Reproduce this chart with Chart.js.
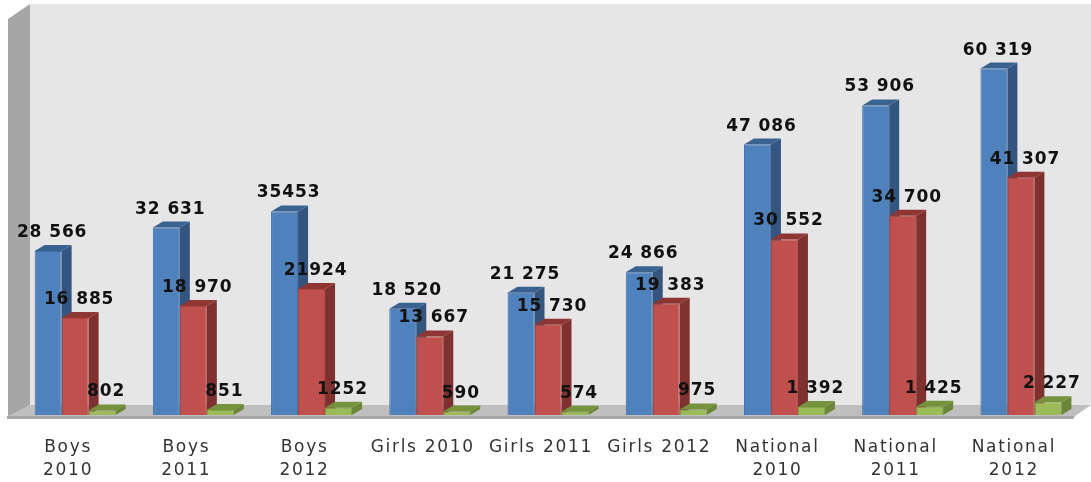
<!DOCTYPE html>
<html>
<head>
<meta charset="utf-8">
<title>Boys, Girls and National 2010-2012</title>
<style>
    html, body { margin: 0; padding: 0; background: #fff; }
    canvas { display: block; }
</style>
<script src="https://cdn.jsdelivr.net/npm/chart.js@4/dist/chart.umd.min.js"></script>
</head>
<body>
<canvas id="myChart" width="1091" height="482"></canvas>
<script>
// chart data
var categories = [
    ["Boys", "2010"], ["Boys", "2011"], ["Boys", "2012"],
    "Girls 2010", "Girls 2011", "Girls 2012",
    ["National", "2010"], ["National", "2011"], ["National", "2012"]
];
var blueValues = [28566, 32631, 35453, 18520, 21275, 24866, 47086, 53906, 60319];
var redValues = [16885, 18970, 21924, 13667, 15730, 19383, 30552, 34700, 41307];
var greenValues = [802, 851, 1252, 590, 574, 975, 1392, 1425, 2227];
var blueLabels = ["28 566", "32 631", "35453", "18 520", "21 275", "24 866", "47 086", "53 906", "60 319"];
var redLabels = ["16 885", "18 970", "21924", "13 667", "15 730", "19 383", "30 552", "34 700", "41 307"];
var greenLabels = ["802", "851", "1252", "590", "574", "975", "1 392", "1 425", "2 227"];

// depth of the fake 3d
var DEPTH_X = 10;
var DEPTH_Y = 6;
// axis text sits a little left of the bar groups
var TICK_SHIFT = 7;

function poly(ctx, pts, color) {
    ctx.beginPath();
    ctx.moveTo(pts[0][0], pts[0][1]);
    for (var i = 1; i < pts.length; i++) {
        ctx.lineTo(pts[i][0], pts[i][1]);
    }
    ctx.closePath();
    ctx.fillStyle = color;
    ctx.fill();
}

// back wall, left wall and floor
var wallPlugin = {
    id: "walls",
    beforeDraw: function (chart) {
        var ctx = chart.ctx;
        var a = chart.chartArea;
        var w = chart.width;
        var base = a.bottom;
        ctx.save();
        poly(ctx, [[30, 4], [w, 4], [w, base - 10], [30, base - 10]], "#e6e6e6");
        poly(ctx, [[8, 19], [30, 4], [30, base - 10], [8, base + 3]], "#a6a6a6");
        poly(ctx, [[8, base + 1], [30, base - 10], [w, base - 10], [1075, base + 1]], "#bfbfbf");
        poly(ctx, [[7, base + 1], [1075, base + 1], [1073, base + 4], [7, base + 4]], "#a6a6a6");
        ctx.restore();
        // stretched look of the axis text, undone in beforeDatasetsDraw
        ctx.letterSpacing = "1.7px";
        ctx.translate(-TICK_SHIFT, 0);
    }
};

// series painted left to right so each front covers the side of the one before
var depthPlugin = {
    id: "depth",
    beforeDatasetsDraw: function (chart) {
        var ctx = chart.ctx;
        ctx.letterSpacing = "0px";
        ctx.translate(TICK_SHIFT, 0);
        chart.data.datasets.forEach(function (ds, i) {
            var meta = chart.getDatasetMeta(i);
            ctx.save();
            meta.data.forEach(function (bar) {
                var half = bar.width / 2;
                var l = bar.x - half;
                var r = bar.x + half;
                poly(ctx, [[r, bar.base], [r + DEPTH_X, bar.base - DEPTH_Y], [r + DEPTH_X, bar.y - DEPTH_Y], [r, bar.y]], ds.sideColor);
                poly(ctx, [[l, bar.y], [l + DEPTH_X, bar.y - DEPTH_Y], [r + DEPTH_X, bar.y - DEPTH_Y], [r, bar.y]], ds.topColor);
            });
            meta.controller.draw();
            ctx.restore();
        });
        return false;
    }
};

// value labels above the bars
var labelPlugin = {
    id: "valueLabels",
    afterDraw: function (chart) {
        var ctx = chart.ctx;
        ctx.save();
        ctx.font = "bold 17px 'DejaVu Sans'";
        ctx.letterSpacing = "0.9px";
        ctx.fillStyle = "#111";
        ctx.textAlign = "center";
        ctx.textBaseline = "middle";
        chart.data.datasets.forEach(function (ds, i) {
            chart.getDatasetMeta(i).data.forEach(function (bar, j) {
                ctx.fillText(ds.valueLabels[j], bar.x + 4, bar.y - 18.5);
            });
        });
        ctx.restore();
    }
};

var ctx = document.getElementById("myChart");
var chart = new Chart(ctx, {
    type: "bar",
    data: {
        labels: categories,
        datasets: [
            { label: "Blue", data: blueValues, valueLabels: blueLabels, backgroundColor: "#4f81bd", borderColor: "#3f6ea6", borderWidth: 1, sideColor: "#34557f", topColor: "#3a6291" },
            { label: "Red", data: redValues, valueLabels: redLabels, backgroundColor: "#c0504d", borderColor: "#b0443f", borderWidth: 1, sideColor: "#7f3130", topColor: "#8f3634" },
            { label: "Green", data: greenValues, valueLabels: greenLabels, backgroundColor: "#9bbb59", borderColor: "#86a548", borderWidth: 1, sideColor: "#6b8539", topColor: "#76923c" }
        ]
    },
    options: {
        responsive: false,
        animation: false,
        layout: { padding: { top: 13, left: 16, right: 11, bottom: 0 } },
        plugins: { legend: { display: false }, tooltip: { enabled: false } },
        datasets: { bar: { barPercentage: 1, categoryPercentage: 0.685 } },
        scales: {
            x: {
                grid: { display: false },
                border: { display: false },
                afterFit: function (scale) { scale.height = 67; },
                ticks: {
                    color: "#333",
                    padding: 13,
                    maxRotation: 0,
                    autoSkip: false,
                    font: { family: "'DejaVu Sans'", size: 17, lineHeight: 1.35 }
                }
            },
            y: { display: false, min: 0, max: 70000 }
        }
    },
    plugins: [wallPlugin, depthPlugin, labelPlugin]
});
</script>
</body>
</html>
